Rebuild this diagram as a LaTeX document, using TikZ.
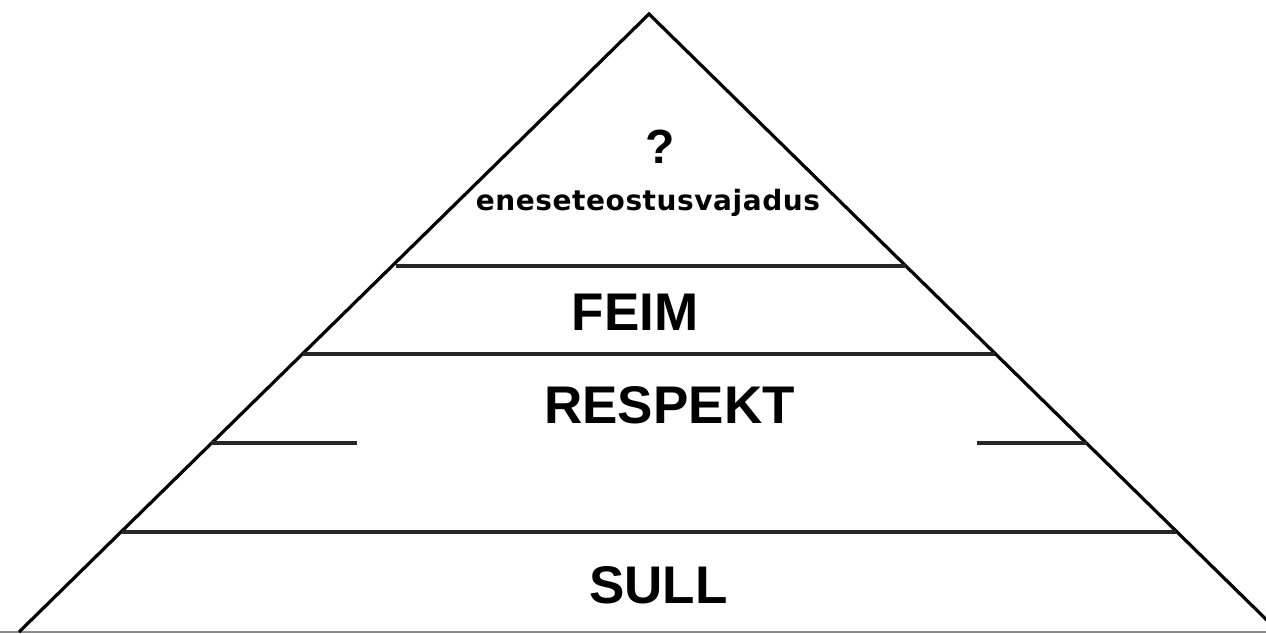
\documentclass[tikz,border=0pt]{standalone}
\usepackage{fontspec}
\setmainfont{Liberation Sans}
\newfontfamily\djv[LetterSpace=2]{DejaVu Sans}
\begin{document}
\begin{tikzpicture}[x=1pt,y=-1pt,
  edge/.style={line width=3.2pt,black},
  tier/.style={line width=3.4pt,black!85},
  big/.style={inner sep=0pt,anchor=base,font=\fontsize{53}{60}\selectfont\bfseries},
  small/.style={inner sep=0pt,anchor=base,font=\djv\fontsize{28}{32}\selectfont\bfseries}]
\useasboundingbox (0,0) rectangle (1266,633);
\fill[white] (0,0) rectangle (1266,633);
\clip (0,0) rectangle (1266,633);
\coordinate (apex) at (649,14);
\coordinate (bl) at (19,632);
\coordinate (br) at (1279,632);
% base
\draw[line width=2.4pt,black!45] (0,632) -- (1266,632);
% sides
\draw[edge] (bl) -- (apex) -- (br);
% tier lines
\draw[tier] (396,266) -- (906,266);
\draw[tier] (303,354) -- (995,354);
\draw[tier] (211,443) -- (357,443);
\draw[tier] (977,443) -- (1087,443);
\draw[tier] (122,532) -- (1176,532);
% labels
\node[big,font=\fontsize{48}{56}\selectfont\bfseries] (q) at (660,163) {?};
\node[small] (top) at (648,210) {eneseteostusvajadus};
\node[big] (feim) at (635,330) {FEIM};
\node[big] (resp) at (669.5,423) {RESPEKT};
\node[big] (sull) at (658.5,603) {SULL};
\end{tikzpicture}
\end{document}
